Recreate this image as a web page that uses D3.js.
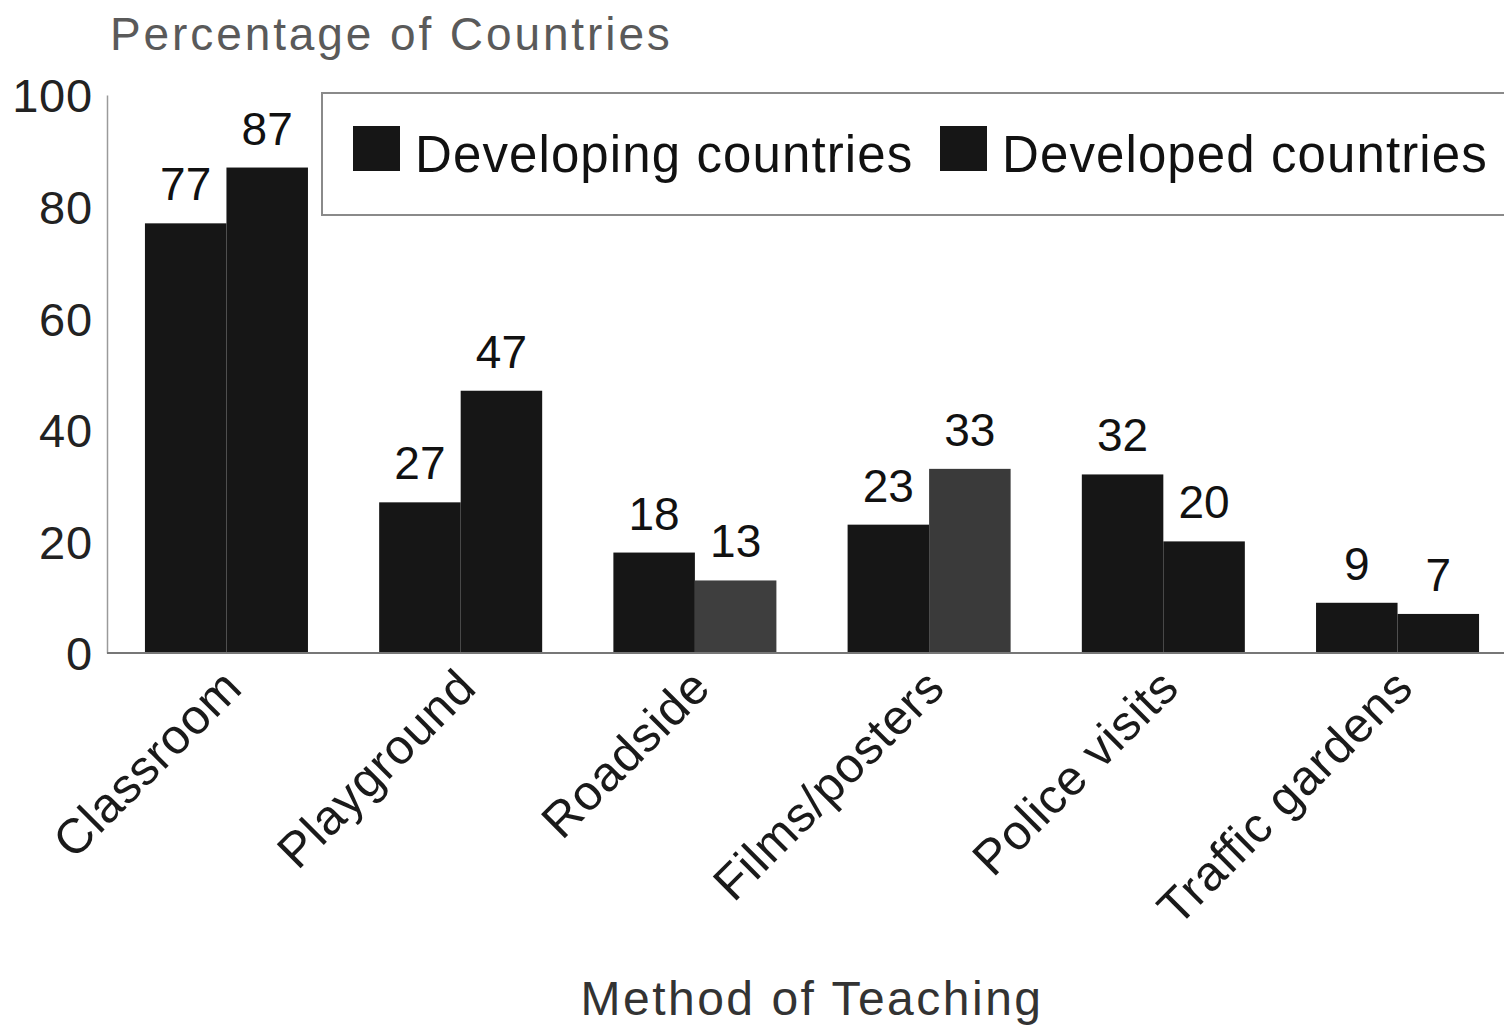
<!DOCTYPE html>
<html>
<head>
<meta charset="utf-8">
<script src="https://cdn.jsdelivr.net/npm/d3@7"></script>
<style>
  html, body { margin: 0; padding: 0; background: #ffffff; }
  svg { display: block; font-family: "Liberation Sans", Arial, Helvetica, sans-serif; }
</style>
</head>
<body>
<svg id="chart" width="1504" height="1025"></svg>
<script>
// ---- data ----
const categories = ["Classroom", "Playground", "Roadside", "Films/posters", "Police visits", "Traffic gardens"];
const seriesNames = ["Developing countries", "Developed countries"];
const developing = [77, 27, 18, 23, 32, 9];
const developed  = [87, 47, 13, 33, 20, 7];
const yTicks = [0, 20, 40, 60, 80, 100];
const yTitle = "Percentage of Countries";
const xTitle = "Method of Teaching";

// ---- styles (kept separate from data) ----
const developedShade = ["#161616", "#161616", "#3e3e3e", "#3a3a3a", "#161616", "#161616"];
const developingShade = "#161616";

const svg = d3.select("#chart");
svg.append("rect").attr("width", 1504).attr("height", 1025).attr("fill", "#ffffff");

const y = d3.scaleLinear().domain([0, 100]).range([653, 95]);
const x0 = d3.scaleBand().domain(categories).range([107, 1517]).paddingInner(0.304).paddingOuter(0.162);
const x1 = d3.scaleBand().domain(seriesNames).range([0, x0.bandwidth()]);

const rows = categories.map((c, i) => ({cat: c, i, vals: [developing[i], developed[i]]}));

// y axis
const yAxis = d3.axisLeft(y).tickValues(yTicks).tickSize(0).tickPadding(14);
const gy = svg.append("g").attr("transform", "translate(107,0)").call(yAxis);
gy.select(".domain").attr("stroke", "#9a9a9a").attr("stroke-width", 1.5);
gy.selectAll("text").attr("font-size", 47).attr("fill", "#222").attr("dy", "0.36em").attr("letter-spacing", 0.8);

// bars
const groups = svg.append("g").selectAll("g").data(rows).join("g")
  .attr("transform", d => `translate(${x0(d.cat)},0)`);

groups.selectAll("rect").data(d => d.vals.map((v, k) => ({v, k, i: d.i})))
  .join("rect")
  .attr("x", d => x1(seriesNames[d.k]))
  .attr("y", d => y(d.v))
  .attr("width", x1.bandwidth() + (d => 0)())
  .attr("height", d => y(0) - y(d.v))
  .attr("fill", d => d.k === 0 ? developingShade : developedShade[d.i]);

groups.selectAll("text.val").data(d => d.vals.map((v, k) => ({v, k})))
  .join("text")
  .attr("class", "val")
  .attr("x", d => x1(seriesNames[d.k]) + x1.bandwidth() / 2)
  .attr("y", d => y(d.v) - 23)
  .attr("text-anchor", "middle")
  .attr("font-size", 46)
  .attr("fill", "#111")
  .text(d => d.v);

// x axis
const xAxis = d3.axisBottom(x0).tickSize(0).tickFormat("");
const gx = svg.append("g").attr("transform", "translate(0,653)").call(xAxis);
gx.select(".domain").attr("stroke", "#777").attr("stroke-width", 2).attr("d", "M107,0H1504");

svg.append("g").selectAll("text").data(categories).join("text")
  .attr("transform", d => `translate(${x0(d) + x0.bandwidth() / 2 + 18},690) rotate(-45)`)
  .attr("text-anchor", "end")
  .attr("font-size", 49)
  .attr("letter-spacing", 0.8)
  .attr("fill", "#1a1a1a")
  .text(d => d);

// titles
svg.append("text").attr("x", 110).attr("y", 50)
  .attr("font-size", 46).attr("letter-spacing", 2.9).attr("fill", "#5a5a5a").text(yTitle);
svg.append("text").attr("x", 812).attr("y", 1015).attr("text-anchor", "middle")
  .attr("font-size", 48).attr("letter-spacing", 2.5).attr("fill", "#333").text(xTitle);

// legend
const leg = svg.append("g");
leg.append("rect").attr("x", 322).attr("y", 93).attr("width", 1220).attr("height", 122)
  .attr("fill", "#ffffff").attr("stroke", "#8a8a8a").attr("stroke-width", 2);
const legX = [353, 940];
seriesNames.forEach((s, k) => {
  leg.append("rect").attr("x", legX[k]).attr("y", 126).attr("width", 47).attr("height", 45)
    .attr("fill", "#161616");
  leg.append("text").attr("x", legX[k] + 62).attr("y", 172)
    .attr("font-size", 51).attr("letter-spacing", 1.1).attr("fill", "#111").text(s);
});
</script>
</body>
</html>
